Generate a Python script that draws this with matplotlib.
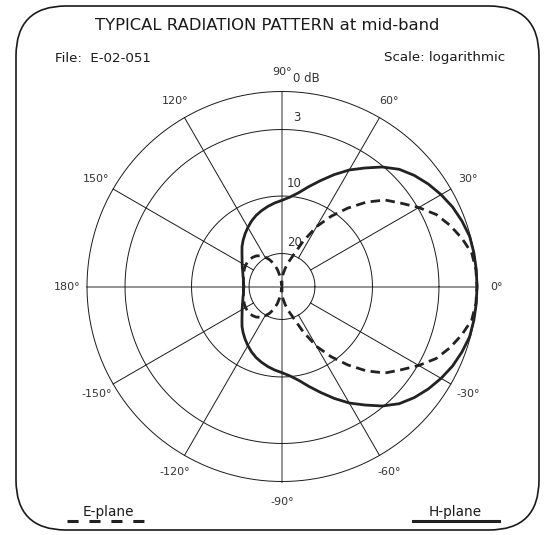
import numpy as np
import matplotlib
matplotlib.use("Agg")
import matplotlib.pyplot as plt
from matplotlib.patches import FancyBboxPatch
from matplotlib.lines import Line2D
from matplotlib.transforms import IdentityTransform, offset_copy

plt.rcParams['font.family'] = ['DejaVu Sans']
plt.rcParams['lines.scale_dashes'] = False

# Pattern is symmetric, read every 5 deg from 0 to 180 (radius relative to 0 dB ring)
angles_deg = np.arange(0, 181, 5)
h_plane = [1.00, 1.00, 0.999, 0.996, 0.982, 0.965, 0.942, 0.916, 0.886, 0.850,
           0.800, 0.742, 0.690, 0.633, 0.578, 0.530, 0.488, 0.460, 0.442, 0.430,
           0.417, 0.403, 0.388, 0.370, 0.350, 0.330, 0.310, 0.290, 0.268, 0.250,
           0.236, 0.224, 0.214, 0.207, 0.201, 0.198, 0.196]
e_plane = [1.00, 0.998, 0.988, 0.955, 0.917, 0.873, 0.810, 0.745, 0.690, 0.612,
           0.525, 0.440, 0.355, 0.255, 0.172, 0.130, 0.095, 0.065, 0.036, 0.005,
           0.050, 0.090, 0.125, 0.152, 0.175, 0.192, 0.205, 0.212, 0.216, 0.217,
           0.216, 0.213, 0.209, 0.205, 0.201, 0.199, 0.198]

# logarithmic rings
ring_labels = ["0 dB", "3", "10", "20"]
ring_radius = [1.0, 0.805, 0.464, 0.169]
spoke_angles = np.arange(0, 360, 30)
spoke_labels = ["0°", "30°", "60°", "90°", "120°", "150°", "180°",
                "-150°", "-120°", "-90°", "-60°", "-30°"]

W, H = 555, 535
fig = plt.figure(figsize=(W / 100, H / 100), dpi=100)


def fx(x):
    return x / W


def fy(y):
    return 1 - y / H


# polar axes: centre (282, 286.5) px, 0 dB radius 195 px
cx, cy, R = 282, 286.5, 195
ax = fig.add_axes([fx(cx - R), fy(cy + R), 2 * R / W, 2 * R / H], projection='polar')
ax.set_theta_zero_location('E')
ax.set_rlim(0, 1)
ax.grid(False)
ax.set_xticks([])
ax.set_yticks([])
ax.spines['polar'].set_visible(False)
ax.patch.set_alpha(0)

th = np.linspace(0, 2 * np.pi, 721)
for rr in ring_radius:
    ax.plot(th, np.full_like(th, rr), color='#1a1a1a', lw=0.7, clip_on=False)

for a in spoke_angles:
    t = np.deg2rad(a)
    if a % 90 == 0:
        ax.plot([t, t], [0, 1], color='#8a8a8a', lw=1.3, clip_on=False, zorder=1)
    else:
        ax.plot([t, t], [ring_radius[-1], 1], color='#1a1a1a', lw=0.7, clip_on=False)

for a, lab in zip(spoke_angles, spoke_labels):
    r_lab = 1.105 if a == 270 else 1.1
    ax.text(np.deg2rad(a), r_lab, lab, ha='center', va='center', fontsize=8,
            color='#333333')

for lab, rr in zip(ring_labels, ring_radius):
    dy = 6 if lab != "20" else 5
    dx = 11 if lab in ("0 dB", "3") else 5
    tr = offset_copy(ax.transData, fig=fig, x=dx, y=dy, units='dots')
    ax.text(np.pi / 2, rr, lab, transform=tr, ha='left', va='bottom',
            fontsize=8.5, color='#333333')

# curves (mirror for negative angles)
theta = np.deg2rad(np.concatenate([-angles_deg[::-1], angles_deg[1:]]))
h_r = np.concatenate([h_plane[::-1], h_plane[1:]])
e_r = np.concatenate([e_plane[::-1], e_plane[1:]])
ax.plot(theta, h_r, color='#222222', lw=2.0, clip_on=False, zorder=5)
ax.plot(theta, e_r, color='#222222', lw=2.0, dashes=(6.8, 4.0), clip_on=False, zorder=5)

# texts
fig.text(fx(267), fy(26), "TYPICAL RADIATION PATTERN at mid-band", ha='center',
         va='center', fontsize=11.8, color='#1a1a1a')
fig.text(fx(55), fy(58), "File:  E-02-051", ha='left', va='center', fontsize=9.6,
         color='#1a1a1a')
fig.text(fx(505), fy(58), "Scale: logarithmic", ha='right', va='center', fontsize=9.6,
         color='#1a1a1a')

# legend
fig.text(fx(108.5), fy(512), "E-plane", ha='center', va='center', fontsize=9.8, color='#1a1a1a')
fig.add_artist(Line2D([fx(66.7), fx(146)], [fy(520.5), fy(520.5)], color='#222222', lw=2.2,
                      dashes=(8, 7.8)))
fig.text(fx(455.5), fy(512), "H-plane", ha='center', va='center', fontsize=9.8, color='#1a1a1a')
fig.add_artist(Line2D([fx(413), fx(499)], [fy(520.5), fy(520.5)], color='#222222', lw=2.2))

# rounded frame
frame = FancyBboxPatch((16, H - 530), 523, 524, boxstyle='round,pad=0,rounding_size=50',
                       transform=IdentityTransform(), fill=False, ec='#1a1a1a', lw=1.2)
fig.add_artist(frame)

fig.savefig("out.png", dpi=100)
